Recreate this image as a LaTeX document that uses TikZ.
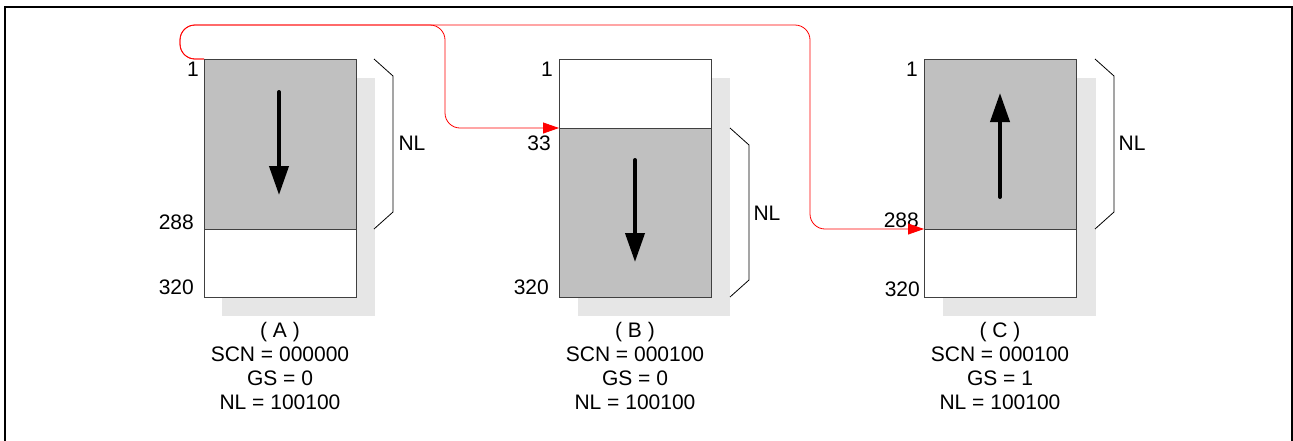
\documentclass[tikz,border=0pt]{standalone}
\usepackage{fontspec}
\setmainfont{Liberation Sans}
\usetikzlibrary{arrows.meta,calc}
\definecolor{boxgray}{HTML}{C0C0C0}
\definecolor{shadowgray}{HTML}{E6E6E6}
\definecolor{edgegray}{HTML}{404040}
\begin{document}
\begin{tikzpicture}[x=1pt,y=-1pt,
  every node/.style={font=\fontsize{21}{24}\selectfont},
  part/.style={draw=edgegray,line width=1pt,minimum width=152pt,inner sep=0pt,outer sep=0pt},
  fullpart/.style={part,fill=boxgray},
  emptypart/.style={part,fill=white},
  shadowbox/.style={fill=shadowgray},
  numlabel/.style={anchor=east,inner sep=0pt},
  bracket/.style={draw=black,line width=0.8pt},
  flow/.style={draw=black,line width=4pt,line cap=round,-{Triangle[length=29pt,width=19pt]}},
  link/.style={draw=red,line width=0.8pt,rounded corners=15pt,-{Triangle[length=16pt,width=11pt]}},
  caption/.style={align=center,inner sep=0pt}]
\useasboundingbox (0,0) rectangle (1293,440);
\fill[white] (0,0) rectangle (1293,440);
\draw[line width=2pt] (5,450) -- (5,7) -- (1292,7) -- (1292,450);

% shadows
\fill[shadowbox] (222,78) rectangle (375,316);
\fill[shadowbox] (578,78) rectangle (730,316);
\fill[shadowbox] (943,78) rectangle (1096,316);

% box A
\node[fullpart,minimum height=170pt] (Aup) at (280,144) {};
\node[emptypart,minimum height=68pt] (Alow) at (280,263) {};
% box B
\node[emptypart,minimum height=69pt] (Bup) at (635,93.5) {};
\node[fullpart,minimum height=169pt] (Blow) at (635,212.5) {};
% box C
\node[fullpart,minimum height=170pt] (Cup) at (1000,144) {};
\node[emptypart,minimum height=68pt] (Clow) at (1000,263) {};

% arrows inside
\coordinate (Aa) at (279,92);
\coordinate (Ab) at (279,195);
\draw[flow] (Aa) -- (Ab);
\coordinate (Ba) at (635,160);
\coordinate (Bb) at (635,262);
\draw[flow] (Ba) -- (Bb);
\coordinate (Ca) at (1000,197);
\coordinate (Cb) at (1000,93);
\draw[flow] (Ca) -- (Cb);

% row labels
\node[numlabel] (A1) at (199,69) {1};
\node[numlabel] (A288) at (194,222) {288};
\node[numlabel] (A320) at (194,287) {320};
\node[numlabel] (B1) at (553,69) {1};
\node[numlabel] (B33) at (551,143) {33};
\node[numlabel] (B320) at (549,287) {320};
\node[numlabel] (C1) at (918,69) {1};
\node[numlabel] (C288) at (919,220) {288};
\node[numlabel] (C320) at (920,289) {320};

% brackets
\draw[bracket] ($(Aup.north east)+(18,0)$) -- ++(19,17) -- ++(0,136) -- ++(-19,17);
\draw[bracket] ($(Blow.north east)+(19,0)$) -- ++(19,17) -- ++(0,135) -- ++(-19,17);
\draw[bracket] ($(Cup.north east)+(19,0)$) -- ++(19,17) -- ++(0,136) -- ++(-19,17);
\node (ANL) at (412,143) {NL};
\node (BNL) at (767,213) {NL};
\node (CNL) at (1132,143) {NL};

% captions
\node[caption] (Acap) at (280,366) {( A )\\SCN = 000000\\GS = 0\\NL = 100100};
\node[caption] (Bcap) at (635,366) {( B )\\SCN = 000100\\GS = 0\\NL = 100100};
\node[caption] (Ccap) at (1000,366) {( C )\\SCN = 000100\\GS = 1\\NL = 100100};

% red links
\coordinate (top) at (180,25);
\draw[link] (Aup.north west) -- (180,59) -- (top) -- (445,25) -- (445,128) -- (Blow.north west);
\draw[link] (Aup.north west) -- (180,59) -- (top) -- (810,25) -- (810,229) -- (Cup.south west);
\end{tikzpicture}
\end{document}
